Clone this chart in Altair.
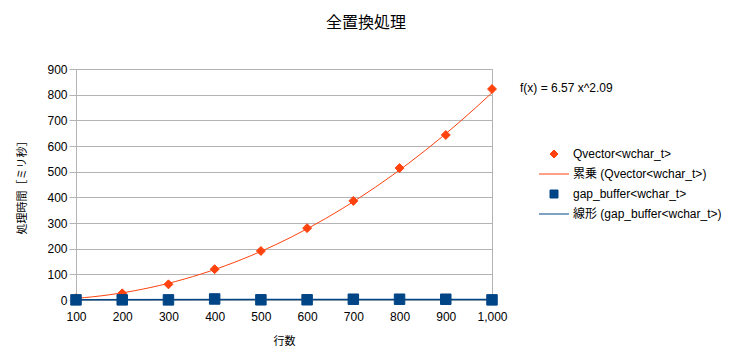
import altair as alt
import pandas as pd

ROWS = [100, 200, 300, 400, 500, 600, 700, 800, 900, 1000]
QVECTOR_MS = [7, 26, 61, 120, 191, 280, 386, 514, 643, 822]
GAP_MS = [0.5, 0.6, 0.5, 4, 0.8, 1, 3, 3, 3, 0.5]

S_Q = "Qvector<wchar_t>"
S_QT = "累乗  (Qvector<wchar_t>)"
S_G = "gap_buffer<wchar_t>"
S_GT = "線形  (gap_buffer<wchar_t>)"
DOMAIN = [S_Q, S_QT, S_G, S_GT]
COLORS = ["#ff420e", "#ff420e", "#004586", "#004586"]
SHAPES = ["diamond", "M-3.75,0H3.75", "square", "M-3.75,0H3.75"]
TREND_TEXT = "f(x) = 6.57 x^2.09"
TITLE = "全置換処理"
X_TITLE = "行数"
Y_TITLE = "処理時間［ミリ秒］"
Y_TICKS = [0, 100, 200, 300, 400, 500, 600, 700, 800, 900]

df = pd.DataFrame({
    "rows": ROWS + ROWS,
    "ms": QVECTOR_MS + GAP_MS,
    "series": [S_Q] * len(ROWS) + [S_G] * len(ROWS),
})

FONT = "Liberation Sans, Noto Sans CJK JP, sans-serif"

x = alt.X("rows:Q",
          scale=alt.Scale(domain=[100, 1000], nice=False, zero=False),
          axis=alt.Axis(values=ROWS, format=",d", title=X_TITLE, grid=False,
                        ticks=False, labelFlush=False, domain=False,
                        labelPadding=11, titlePadding=13))
y = alt.Y("ms:Q",
          scale=alt.Scale(domain=[0, 900], nice=False),
          axis=alt.Axis(values=Y_TICKS, title=Y_TITLE, gridColor="#b3b3b3",
                        tickColor="#b3b3b3", tickSize=7, labelPadding=2,
                        titlePadding=19, domain=False))

legend = alt.Legend(title=None, orient="none", legendX=472, legendY=79,
                    symbolSize=64, symbolStrokeWidth=1, labelFontSize=12,
                    labelOffset=13, rowPadding=8, labelLimit=300)
color_scale = alt.Scale(domain=DOMAIN, range=COLORS)
fill = alt.Fill("series:N", scale=color_scale, legend=legend)
stroke = alt.Stroke("series:N", scale=color_scale, legend=legend)
shape = alt.Shape("series:N", scale=alt.Scale(domain=DOMAIN, range=SHAPES), legend=legend)

base = alt.Chart(df)

trend_q = base.transform_filter(alt.datum.series == S_Q).transform_regression(
    "rows", "ms", method="pow").transform_calculate(
    series=f"'{S_QT}'").mark_line(strokeWidth=1).encode(x=x, y=y, stroke=stroke)

trend_g = base.transform_filter(alt.datum.series == S_G).transform_regression(
    "rows", "ms", method="linear").transform_calculate(
    series=f"'{S_GT}'").mark_line(strokeWidth=1.5).encode(x=x, y=y, stroke=stroke)

pts_q = base.transform_filter(alt.datum.series == S_Q).mark_point(
    filled=True, opacity=1, size=80, strokeWidth=1).encode(
    x=x, y=y, fill=fill, stroke=stroke, shape=shape)
pts_g = base.transform_filter(alt.datum.series == S_G).mark_point(
    filled=True, opacity=1, size=110, strokeWidth=1).encode(
    x=x, y=y, fill=fill, stroke=stroke, shape=shape)

label = alt.Chart(pd.DataFrame({"label": [TREND_TEXT]})).mark_text(
    align="left", baseline="middle", fontSize=12, color="#000000").encode(
    x=alt.value(444), y=alt.value(19), text="label:N")

chart = alt.layer(trend_q, pts_q, trend_g, pts_g, label).properties(
    width=416, height=231, autosize="none",
    padding={"left": 68, "top": 61, "right": 230, "bottom": 55},
    title=alt.TitleParams(TITLE, fontSize=16, fontWeight="normal", offset=32,
                          anchor="middle", dx=82, color="#000000"),
).configure(font=FONT).configure_view(stroke="#b3b3b3").configure_axis(
    labelFontSize=12, titleFontSize=11, titleFontWeight="normal",
    labelColor="#000000", titleColor="#000000",
).configure_legend(labelColor="#000000", labelFont=FONT)

chart.save("out.html", embed_options={"renderer": "svg", "actions": False})
